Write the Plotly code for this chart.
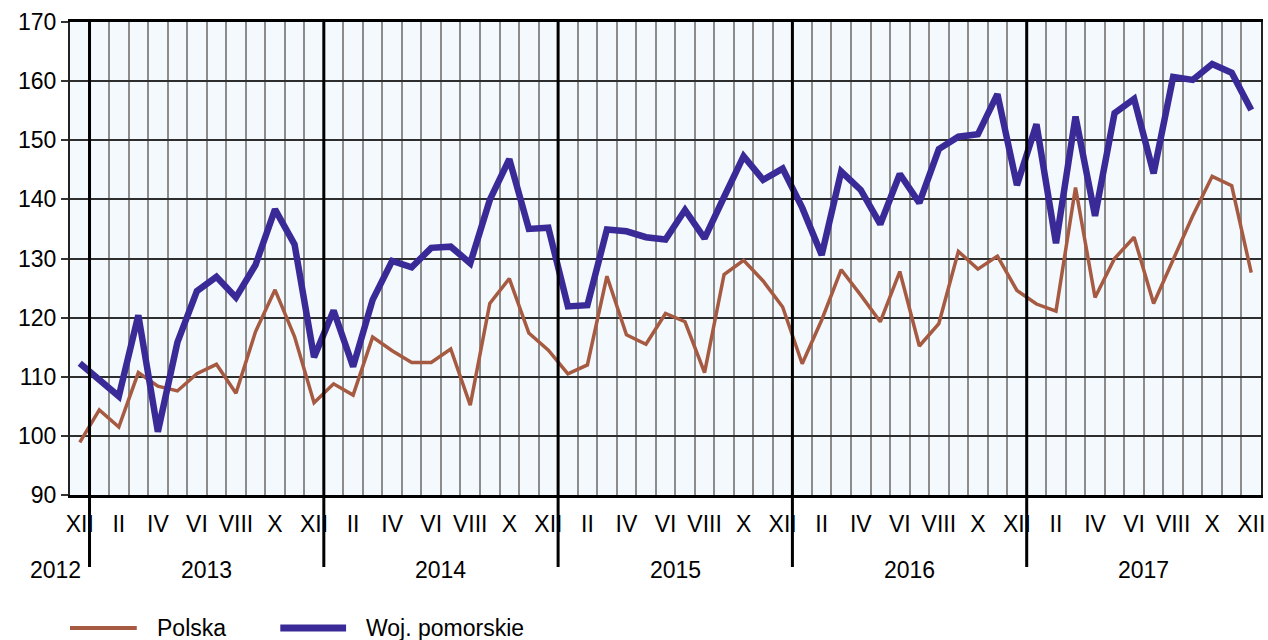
import plotly.graph_objects as go

months_roman = ["I", "II", "III", "IV", "V", "VI", "VII", "VIII", "IX", "X", "XI", "XII"]
years = ["2012", "2013", "2014", "2015", "2016", "2017"]

polska = [98.9, 104.4, 101.5, 110.7, 108.4, 107.6, 110.5, 112.1, 107.2, 117.6, 124.7, 116.8, 105.6,
          108.8, 106.9, 116.7, 114.4, 112.4, 112.4, 114.7, 105.2, 122.4, 126.6, 117.4, 114.5,
          110.5, 112.0, 127.0, 117.1, 115.5, 120.7, 119.3, 110.7, 127.3, 129.7, 126.2, 121.8,
          112.2, 119.6, 128.1, 123.8, 119.3, 127.8, 115.2, 119.0, 131.2, 128.2, 130.4, 124.6,
          122.3, 121.1, 142.0, 123.4, 130.0, 133.6, 122.4, 129.8, 137.2, 143.9, 142.3, 127.6]

pomorskie = [112.3, 109.6, 106.7, 120.4, 100.7, 115.8, 124.5, 126.9, 123.4, 128.9, 138.3, 132.4, 113.3,
             121.2, 111.7, 123.0, 129.6, 128.5, 131.8, 132.0, 129.2, 139.9, 146.8, 135.0, 135.2,
             121.9, 122.1, 134.9, 134.6, 133.6, 133.2, 138.2, 133.4, 140.4, 147.3, 143.3, 145.2,
             138.6, 130.6, 144.7, 141.6, 135.8, 144.3, 139.4, 148.5, 150.6, 151.0, 157.8, 142.4,
             152.7, 132.6, 154.0, 137.2, 154.6, 157.0, 144.4, 160.7, 160.2, 162.9, 161.4, 155.1]

series_names = ["Polska", "Woj. pomorskie"]
colors = ["#A65A41", "#3A2A98"]

n = len(polska)
x = list(range(n))
month_labels = [months_roman[(i - 1) % 12] for i in x]

FONT = "Liberation Sans, Arial, sans-serif"
FS = 23

fig = go.Figure()
fig.add_trace(go.Scatter(x=x, y=polska, mode="lines", name=series_names[0],
                         line=dict(color=colors[0], width=3.5), showlegend=False, hoverinfo="skip"))
fig.add_trace(go.Scatter(x=x, y=pomorskie, mode="lines", name=series_names[1],
                         line=dict(color=colors[1], width=6.5), showlegend=False, hoverinfo="skip"))

shapes = []
# year separators
for k in range(len(years) - 1):
    xb = 12 * k + 0.5
    shapes.append(dict(type="line", xref="x", yref="paper", x0=xb, x1=xb, y0=1, y1=-0.152,
                       line=dict(color="black", width=3), layer="above"))

annotations = []
# year labels
for k, yr in enumerate(years):
    if k == 0:
        annotations.append(dict(x=0.15, y=-0.1586, xref="x", yref="paper", text=yr, showarrow=False,
                                xanchor="right", yanchor="middle", font=dict(size=FS, color="black", family=FONT)))
    else:
        annotations.append(dict(x=12 * (k - 1) + 6.5, y=-0.1586, xref="x", yref="paper", text=yr,
                                showarrow=False, xanchor="center", yanchor="middle",
                                font=dict(size=FS, color="black", family=FONT)))

# custom legend
W = 1195.0
def px(xp):
    return (xp - 70) / W
ly = (495 - 628) / 473.0
shapes.append(dict(type="line", xref="paper", yref="paper", x0=px(70), x1=px(137), y0=ly, y1=ly,
                   line=dict(color=colors[0], width=4)))
shapes.append(dict(type="line", xref="paper", yref="paper", x0=px(281), x1=px(347), y0=ly, y1=ly,
                   line=dict(color=colors[1], width=7)))
annotations.append(dict(x=px(155), y=ly, xref="paper", yref="paper", text=series_names[0], showarrow=False,
                        xanchor="left", yanchor="middle", font=dict(size=FS, color="black", family=FONT)))
annotations.append(dict(x=px(365), y=ly, xref="paper", yref="paper", text=series_names[1], showarrow=False,
                        xanchor="left", yanchor="middle", font=dict(size=FS, color="black", family=FONT)))

fig.update_layout(
    width=1268, height=640,
    margin=dict(l=70, r=3, t=22, b=145),
    paper_bgcolor="white",
    plot_bgcolor="#F3F9FC",
    shapes=shapes,
    annotations=annotations,
    showlegend=False,
    hovermode=False,
    font=dict(family=FONT, size=FS, color="black"),
)
fig.update_xaxes(
    range=[-0.5, n - 0.5],
    tickmode="array",
    tickvals=[i for i in x if i % 2 == 0],
    ticktext=[month_labels[i] for i in x if i % 2 == 0],
    showgrid=False,
    ticks="outside", ticklen=7, tickcolor="rgba(0,0,0,0)",
    tickfont=dict(size=FS, family=FONT, color="black"),
    showline=True, linecolor="black", linewidth=2.5, mirror=True,
    minor=dict(tickmode="array", tickvals=[i + 0.5 for i in x[:-1]], showgrid=True,
               gridcolor="#8C8C8C", gridwidth=1.5, ticks=""),
    zeroline=False,
)
fig.update_yaxes(
    range=[90, 170], dtick=10, tick0=90,
    showgrid=True, gridcolor="#2E2E2E", gridwidth=1.5,
    ticks="outside", ticklen=7, tickcolor="#333333", tickwidth=1.5,
    tickfont=dict(size=FS, family=FONT, color="black"),
    showline=True, linecolor="#222222", linewidth=2, mirror=True,
    zeroline=False,
)

fig.write_html("out.html", config={"displayModeBar": False},
               post_script="document.body.style.margin='0';document.body.style.overflow='hidden';")
